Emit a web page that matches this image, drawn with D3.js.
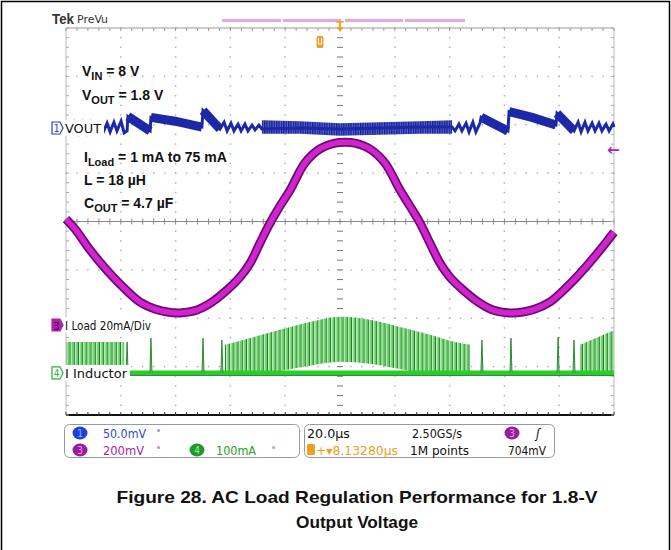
<!DOCTYPE html>
<html><head><meta charset="utf-8">
<script src="https://cdn.jsdelivr.net/npm/d3@7"></script>
<style>body{margin:0;background:#fff}svg{display:block}</style>
</head><body><svg id="c" width="671" height="550"></svg>
<script>
// ---------------- DATA ----------------
const timeDomain = [-100, 100];      // µs, 20 µs/div, 10 div
const divDomain = [-4, 4];            // vertical divisions
const ch1 = {perDiv: 50, pos: 1.933};   // VOUT, mV/div, marker position (div)
const ch3 = {perDiv: 20, pos: -2.14};   // I Load, mA/div
const ch4 = {perDiv: 100, pos: -3.13};  // I Inductor, mA/div

// VOUT (AC) trace [t µs, mV]
const voutTrace = [[-100,0],[-98.5,-5],[-97,5],[-95.5,-5],[-94,5],[-92.5,-5],[-91,5],[-89.5,-5],
 [-87.6,0],[-86.5,-5],[-85.0,5],[-83.9,-4],[-82.5,6],[-81.4,-3],[-79.9,7],[-78.8,-5],[-77.7,-3],
 [-77.4,12],[-69.3,-3],
 [-69.0,11],[-60.2,7],[-50.4,1],
 [-50.0,18],[-43.8,-1],
 [-42.3,6],[-41.2,-3],[-39.8,5],[-38.7,-3],[-37.2,4],[-36.1,-3],[-34.7,4],[-33.6,-3],[-32.1,3],[-31.0,-2],[-29.6,3],[-28.5,-1],
 [-14.6,0],[0,-1],[14.6,0],[29.2,1],[40.9,1],
 [42.0,-3],[43.4,4],[44.5,-3],[46.0,5],[47.1,-4],[48.5,6],[49.6,-4],[51.1,5],
 [51.5,11],[61.3,-3],
 [61.7,17],[70.1,11],[78.8,3],
 [79.2,15],[85.4,-3],
 [86.9,6],[88.0,-4],[89.4,6],[90.5,-3],[92.0,5],[93.1,-3],[94.5,5],[95.6,-3],[97.1,4],[98.2,-3],[99.6,4],[100,1]];
// VOUT recovery ramps (after each skipped pulse burst) [t, mV]
const voutRamps = [
  [[-77.4,12],[-69.3,-3]],
  [[-69.0,11],[-60.2,7],[-50.4,1]],
  [[-50.0,18],[-43.8,-1]],
  [[51.5,11],[61.3,-3]],
  [[61.7,17],[70.1,11],[78.8,3]],
  [[79.2,15],[85.4,-3]]
];
// VOUT ripple band envelope [t, high mV, low mV]
const voutBand = [[-28.5,8,-6],[-14.6,7,-6],[0,5,-8],[14.6,6,-7],[29.2,7,-6],[40.9,8,-6]];

// I Load [t µs, mA]
const loadTrace = [[-100,43.8],[-96.7,39.7],[-91.2,31.0],[-85.8,23.6],[-79.2,15.7],[-73.0,9.5],[-67.5,6.6],[-63.1,5.4],[-58.4,5.0],[-52.2,6.2],[-46.7,9.5],[-41.2,14.5],[-36.5,19.8],[-32.8,25.6],[-29.2,33.9],[-25.5,42.2],[-21.9,49.2],[-18.2,55.8],[-12.8,67.0],[-7.3,72.8],[-1.8,75.2],[1.8,75.6],[5.5,75.2],[10.9,72.8],[16.4,67.0],[21.9,55.8],[25.5,49.2],[29.2,42.2],[32.8,33.9],[36.5,25.6],[40.1,19.8],[44.9,14.5],[50.4,9.5],[55.8,6.2],[62.0,5.0],[66.8,5.4],[71.2,6.6],[76.6,9.5],[82.8,15.7],[89.4,23.6],[94.9,31.0],[100,38.4]];

// I Inductor: isolated pulses [t, peak mA], switching bursts [t, high mA, low mA]
const inductorBaseline = [[-78.8,0],[100,0]];
const inductorPulses = [[-77.7,64],[-69.0,72],[-50.0,72],[-43.1,68],[51.8,68],[62.4,72],[79.6,74],[85.4,68]];
const inductorBursts = [
  [[-100,64,0],[-78.8,64,0]],
  [[-42.0,58,-4],[-32.8,72,-6],[-21.9,89,4],[-10.9,105,15],[0,116,23],[10.9,110,19],[21.9,95,8],[32.8,79,-4],[42.0,64,-6],[47.4,58,-6]],
  [[87.6,58,-6],[94.9,76,-6],[100,88,-6]]
];

const textLines = [["V","IN"," = 8 V"],["V","OUT"," = 1.8 V"],["I","Load"," = 1 mA to 75 mA"],["L = 18 \u00b5H","",""],["C","OUT"," = 4.7 \u00b5F"]];
const caption = ["Figure 28. AC Load Regulation Performance for 1.8-V","Output Voltage"];

// ---------------- DRAW ----------------
const svg = d3.select("#c");
const X0=66, X1=614, Y0=28, Y1=415;
const x = d3.scaleLinear().domain(timeDomain).range([X0,X1]);
const yd = d3.scaleLinear().domain(divDomain).range([Y1,Y0]);
const ych = ch => v => yd(ch.pos + v/ch.perDiv);
const y1 = ych(ch1), y3 = ych(ch3), y4 = ych(ch4);

// outer frame
svg.append("path").attr("d","M1.5,552 V1.5 H669.5 V552").attr("fill","none").attr("stroke","#000").attr("stroke-width",1.5);

// defs
const defs = svg.append("defs");
const pg = defs.append("pattern").attr("id","gpat").attr("patternUnits","userSpaceOnUse").attr("width",4.2).attr("height",10);
pg.append("rect").attr("width",4.2).attr("height",10).attr("fill","#d8f4d8");
pg.append("rect").attr("x",0.4).attr("width",1.8).attr("height",10).attr("fill","#5fd35f");
pg.append("rect").attr("x",2.3).attr("width",1.1).attr("height",10).attr("fill","#1f7f22");
const pb = defs.append("pattern").attr("id","bpat").attr("patternUnits","userSpaceOnUse").attr("width",2.4).attr("height",10);
pb.append("rect").attr("width",2.4).attr("height",10).attr("fill","#5a66c4");
pb.append("rect").attr("width",1.3).attr("height",10).attr("fill","#14209a");

// graticule
const gr = svg.append("g");
const xMaj = d3.range(-100,101,20), xMin = d3.range(-100,100.1,4);
const yMaj = d3.range(-4,4.01,1), yMin = d3.range(-4,4.001,0.2);
xMaj.slice(1,-1).filter(t=>t!==0).forEach(t=>{
  yMin.forEach(v=>gr.append("rect").attr("x",x(t)-0.7).attr("y",yd(v)-0.7).attr("width",1.4).attr("height",1.4).attr("fill","#aaa"));
});
yMaj.slice(1,-1).filter(v=>v!==0).forEach(v=>{
  xMin.forEach(t=>gr.append("rect").attr("x",x(t)-0.7).attr("y",yd(v)-0.7).attr("width",1.4).attr("height",1.4).attr("fill","#aaa"));
});
gr.append("line").attr("x1",X0).attr("x2",X1).attr("y1",yd(0)).attr("y2",yd(0)).attr("stroke","#888").attr("stroke-width",1);
xMin.forEach(t=>gr.append("line").attr("x1",x(t)).attr("x2",x(t)).attr("y1",yd(0)-3).attr("y2",yd(0)+3).attr("stroke","#888"));
yMin.forEach(v=>gr.append("line").attr("x1",x(0)-3).attr("x2",x(0)+3).attr("y1",yd(v)).attr("y2",yd(v)).attr("stroke","#777"));
gr.append("line").attr("x1",X0).attr("x2",X1).attr("y1",Y0).attr("y2",Y0).attr("stroke","#999");
gr.append("line").attr("x1",X0).attr("x2",X0).attr("y1",Y0).attr("y2",Y1).attr("stroke","#bbb");
gr.append("line").attr("x1",X1).attr("x2",X1).attr("y1",Y0).attr("y2",Y1).attr("stroke","#bbb");
xMin.forEach(t=>gr.append("line").attr("x1",x(t)).attr("x2",x(t)).attr("y1",Y0).attr("y2",Y0+3).attr("stroke","#999"));
gr.append("line").attr("x1",X0).attr("x2",X1).attr("y1",Y1).attr("y2",Y1).attr("stroke","#111").attr("stroke-width",2);
xMin.forEach(t=>gr.append("line").attr("x1",x(t)).attr("x2",x(t)).attr("y1",Y1-3).attr("y2",Y1).attr("stroke","#333"));
yMin.forEach(v=>{gr.append("line").attr("x1",X0).attr("x2",X0+3).attr("y1",yd(v)).attr("y2",yd(v)).attr("stroke","#aaa");
  gr.append("line").attr("x1",X1-3).attr("x2",X1).attr("y1",yd(v)).attr("y2",yd(v)).attr("stroke","#aaa");});

// traces
const tr = svg.append("g");
inductorBursts.forEach(b=>{
  tr.append("path").attr("d",d3.area().x(d=>x(d[0])).y0(d=>y4(d[2])).y1(d=>y4(d[1])).curve(d3.curveMonotoneX)(b)).attr("fill","url(#gpat)");
});
tr.append("path").attr("d",d3.line().x(d=>x(d[0])).y(d=>y4(d[1]))(inductorBaseline)).attr("stroke","#2ccc2c").attr("stroke-width",5).attr("fill","none");
tr.append("path").attr("d",d3.line().x(d=>x(d[0])).y(d=>y4(d[1])+2.5)(inductorBaseline)).attr("stroke","#1e8f22").attr("stroke-width",1).attr("fill","none");
inductorPulses.forEach(p=>{
  tr.append("path").attr("d",d3.line()([[x(p[0])-1,y4(0)],[x(p[0]),y4(p[1])],[x(p[0])+1,y4(0)]])).attr("fill","#6fd86f").attr("stroke","#217f23").attr("stroke-width",0.9);
});
const lline = d3.line().x(d=>x(d[0])).y(d=>y3(d[1])).curve(d3.curveCatmullRom);
tr.append("path").attr("d",lline(loadTrace)).attr("stroke","#6e0a74").attr("stroke-width",9).attr("fill","none");
tr.append("path").attr("d",lline(loadTrace)).attr("stroke","#d024cc").attr("stroke-width",5.5).attr("fill","none");
tr.append("path").attr("d",d3.area().x(d=>x(d[0])).y0(d=>y1(d[2])).y1(d=>y1(d[1]))(voutBand)).attr("fill","url(#bpat)");
tr.append("path").attr("d",d3.line().x(d=>x(d[0])).y(d=>y1(d[1]))(voutTrace)).attr("stroke","#1c28a8").attr("stroke-width",3).attr("fill","none").attr("stroke-linejoin","miter");
voutRamps.forEach(r=>tr.append("path").attr("d",d3.line().x(d=>x(d[0])).y(d=>y1(d[1]))(r)).attr("stroke","#1c28a8").attr("stroke-width",9).attr("fill","none"));

// header
svg.append("text").attr("x",52).attr("y",24).attr("font-family","Liberation Sans, Arial").attr("font-weight","bold").attr("font-size",14).attr("fill","#333").attr("textLength",22).attr("lengthAdjust","spacingAndGlyphs").text("Tek");
svg.append("text").attr("x",77).attr("y",23).attr("font-family","DejaVu Sans Condensed, DejaVu Sans").attr("font-size",11).attr("fill","#333").attr("textLength",31).attr("lengthAdjust","spacingAndGlyphs").text("PreVu");
[[222,281],[283,341],[345,403],[405,465]].forEach(s=>svg.append("rect").attr("x",s[0]).attr("y",19).attr("width",s[1]-s[0]).attr("height",3).attr("fill","#e3a8e3"));
svg.append("text").attr("x",x(0)).attr("y",30).attr("text-anchor","middle").attr("font-family","Liberation Sans").attr("font-weight","bold").attr("font-size",13).attr("fill","#f0a020").text("T");
svg.append("path").attr("d",`M${x(0)-3},${Y0-1} L${x(0)+3},${Y0-1} L${x(0)},${Y0+4}Z`).attr("fill","#f0a020");
svg.append("rect").attr("x",x(-7.3)-3.5).attr("y",36).attr("width",7).attr("height",12).attr("rx",1.5).attr("fill","#f0a020");
svg.append("path").attr("d",`M${x(-7.3)-1.5},38 V44 H${x(-7.3)+1.5} V38`).attr("stroke","#fff").attr("fill","none").attr("stroke-width",1);
svg.append("text").attr("x",X1-7).attr("y",155).attr("font-family","DejaVu Sans").attr("font-size",15).attr("font-weight","bold").attr("fill","#b020b0").text("\u2190");

// annotations
const ann = svg.append("g").attr("font-family","Liberation Sans, Arial").attr("font-weight","bold").attr("font-size",14).attr("fill","#111");
const annY=[76,100,162,185,208];
textLines.forEach((l,i)=>{
  const t=ann.append("text").attr("x",i>=2?84:82).attr("y",annY[i]);
  t.append("tspan").text(l[0]);
  if(l[1]){t.append("tspan").attr("dy",4).attr("font-size",11).text(l[1]);
  t.append("tspan").attr("dy",-4).text(l[2]);}
});

// channel markers
function marker(yy, num, col, filled, label, lw){
  const g=svg.append("g");
  g.append("rect").attr("x",50).attr("y",yy-8).attr("width",(label?lw:0)+18).attr("height",16).attr("fill","#fff");
  g.append("path").attr("d",`M52,${yy-6} H60 L63,${yy} L60,${yy+6} H52 Z`).attr("fill",filled?col:"#fff").attr("stroke",col).attr("stroke-width",1.2);
  g.append("text").attr("x",56.5).attr("y",yy+4.5).attr("text-anchor","middle").attr("font-family","DejaVu Sans Condensed, DejaVu Sans").attr("font-size",10).attr("fill",filled?"#3a003a":col).text(num);
  g.append("text").attr("x",65).attr("y",yy+5).attr("font-family","DejaVu Sans Condensed, DejaVu Sans").attr("font-size",12).attr("fill","#111").attr("textLength",lw).attr("lengthAdjust","spacingAndGlyphs").text(label);
}
marker(y1(0),"1","#2a3ad0",false,"VOUT",36);
marker(y3(0),"3","#b020b0",true,"I Load 20mA/Div",86);
marker(y4(0),"4","#30b030",false,"I Inductor",62);

// status boxes
const st = svg.append("g").attr("font-family","DejaVu Sans Condensed, DejaVu Sans").attr("font-size",12);
st.append("rect").attr("x",64.5).attr("y",424.5).attr("width",235).attr("height",33).attr("rx",5).attr("fill","#fff").attr("stroke","#999");
st.append("rect").attr("x",304.5).attr("y",424.5).attr("width",250).attr("height",33).attr("rx",5).attr("fill","#fff").attr("stroke","#999");
function badge(cx,cy,col,num,tc){st.append("ellipse").attr("cx",cx).attr("cy",cy).attr("rx",7.5).attr("ry",6.5).attr("fill",col);
  st.append("text").attr("x",cx).attr("y",cy+4).attr("text-anchor","middle").attr("font-size",10).attr("fill",tc).text(num);}
function txt(x0,yb,s,col,w,fs){const t=st.append("text").attr("x",x0).attr("y",yb).attr("fill",col).text(s); if(w)t.attr("textLength",w).attr("lengthAdjust","spacingAndGlyphs"); if(fs)t.attr("font-size",fs); return t;}
badge(80,433,"#1e3fe0","1","#9fb0ff");
txt(103,438,"50.0mV","#3446d4",43);
txt(157,435,"\u1d2e","#3446d4",null,8);
badge(80,450,"#9a1aa0","3","#e8a0e8");
txt(103,455,"200mV","#a824a8",41);
txt(157,452,"\u1d2e","#a824a8",null,8);
badge(197,450,"#1f9a2a","4","#a0f0a0");
txt(216,455,"100mA","#26a026",40);
txt(272,452,"\u1d2e","#26a026",null,8);
txt(307,438,"20.0\u00b5s","#111",43);
txt(412,438,"2.50GS/s","#111",50);
badge(512,433,"#9a1aa0","3","#e8a0e8");
txt(536,438,"\u0283","#111",null,13).attr("font-style","italic");
st.append("rect").attr("x",307).attr("y",444).attr("width",8).attr("height",11).attr("rx",1.5).attr("fill","#f0a020");
txt(316,455,"+\u25be8.13280\u00b5s","#f0a020",82);
txt(410,455,"1M points","#111",59);
txt(508,455,"704mV","#111",38);

// caption
const cap = svg.append("g").attr("font-family","Liberation Sans, Arial").attr("font-weight","bold").attr("font-size",17).attr("fill","#111").attr("text-anchor","middle");
cap.append("text").attr("x",357).attr("y",503).attr("textLength",481).attr("lengthAdjust","spacingAndGlyphs").text(caption[0]);
cap.append("text").attr("x",357).attr("y",528).attr("textLength",122).attr("lengthAdjust","spacingAndGlyphs").text(caption[1]);
</script></body></html>
